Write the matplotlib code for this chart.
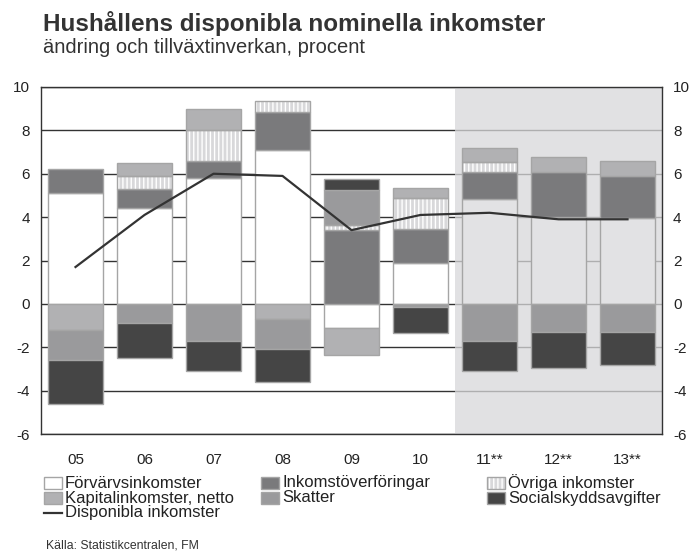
import matplotlib.pyplot as plt
import numpy as np
from matplotlib.patches import Rectangle
from matplotlib.lines import Line2D

plt.rcParams["font.family"] = ["Liberation Sans", "DejaVu Sans"]
plt.rcParams["axes.unicode_minus"] = False

years = ["05", "06", "07", "08", "09", "10", "11**", "12**", "13**"]
n_forecast = 3

# contributions, percentage points
forvarv = [5.1, 4.4, 5.8, 7.1, -1.1, 1.9, 4.85, 4.0, 3.95]
overforing = [1.1, 0.9, 0.8, 1.75, 3.4, 1.55, 1.25, 2.1, 1.95]
ovriga = [0.0, 0.6, 1.4, 0.5, 0.25, 1.45, 0.45, 0.0, 0.0]
kapital = [-1.2, 0.6, 1.0, -0.7, -1.25, 0.45, 0.65, 0.65, 0.7]
skatter = [-1.4, -0.9, -1.7, -1.4, 1.6, -0.15, -1.7, -1.3, -1.3]
social = [-2.0, -1.6, -1.4, -1.5, 0.5, -1.2, -1.4, -1.65, -1.5]
disponibla = [1.7, 4.1, 6.0, 5.9, 3.4, 4.1, 4.2, 3.9, 3.9]

legend_labels = ["Förvärvsinkomster", "Kapitalinkomster, netto", "Disponibla inkomster",
                 "Inkomstöverföringar", "Skatter",
                 "Övriga inkomster", "Socialskyddsavgifter"]

c_white = "white"
c_shade_fill = "#e2e2e4"
c_over = "#7a7a7c"
c_ovr = "#d8d8da"
c_kap = "#b1b1b3"
c_skatt = "#9a9a9c"
c_soc = "#454545"
c_edge = "#a5a5a5"
c_line = "#333333"

W, H = 693, 552
fig = plt.figure(figsize=(W / 100, H / 100), dpi=100)
ax = fig.add_axes([41 / W, 1 - 434 / H, 621 / W, 347 / H])

x = np.arange(len(years))
width = 0.8
first_fc = len(years) - n_forecast

# gridlines and forecast shading
for yv in range(-6, 11, 2):
    ax.axhline(yv, color=c_line, lw=1.0, zorder=1)
ax.axvspan(first_fc - 0.5, len(years) - 0.5, color="#d8d8da", alpha=0.75, lw=0, zorder=1.5)

series = [
    ("forvarv", forvarv, c_white),
    ("overforing", overforing, c_over),
    ("ovriga", ovriga, c_ovr),
    ("kapital", kapital, c_kap),
    ("skatter", skatter, c_skatt),
    ("social", social, c_soc),
]

pos_base = np.zeros(len(years))
neg_base = np.zeros(len(years))
for name, vals, col in series:
    for i, v in enumerate(vals):
        if v == 0:
            continue
        if v > 0:
            b = pos_base[i]
            pos_base[i] += v
        else:
            b = neg_base[i]
            neg_base[i] += v
        fc = col
        if name == "forvarv" and i >= first_fc:
            fc = c_shade_fill
        if name == "ovriga":
            ax.bar(x[i], v, width, bottom=b, color=fc, edgecolor="white",
                   hatch="||||", lw=0, zorder=2)
            ax.bar(x[i], v, width, bottom=b, facecolor="none", edgecolor=c_edge,
                   lw=1.0, zorder=2.1)
        else:
            ax.bar(x[i], v, width, bottom=b, color=fc, edgecolor=c_edge,
                   lw=1.0, zorder=2)

ax.plot(x, disponibla, color=c_line, lw=1.6, zorder=3)

ax.set_xlim(-0.5, len(years) - 0.5)
ax.set_ylim(-6, 10)
ax.set_yticks(range(-6, 11, 2))
ax.set_xticks(x)
ax.set_xticklabels(years)
ax.tick_params(axis="both", length=0, labelsize=11, labelcolor="#222222")
ax.tick_params(axis="y", labelright=True, pad=8)
ax.tick_params(axis="x", pad=14)
for sp in ax.spines.values():
    sp.set_color(c_line)
    sp.set_linewidth(1.0)
    sp.set_zorder(4)

fig.text(43 / W, 1 - 24 / H, "Hushållens disponibla nominella inkomster",
         fontsize=17.5, fontweight="bold", color="#333333", va="center")
fig.text(43 / W, 1 - 48 / H, "ändring och tillväxtinverkan, procent",
         fontsize=14.5, color="#333333", va="center")

# hand-placed legend in three columns
col_x = [44, 261, 487]
row_y = [483, 498, 513]
slots = [(0, 0), (0, 1), (0, 2), (1, 0), (1, 1), (2, 0), (2, 1)]
kinds = [("box", c_white), ("box", c_kap), ("line", c_line),
         ("box", c_over), ("box", c_skatt), ("hatch", c_ovr), ("box", c_soc)]
for lab, (ci, ri), (kind, col) in zip(legend_labels, slots, kinds):
    x0 = col_x[ci]
    yc = row_y[ri]
    if kind == "line":
        fig.add_artist(Line2D([x0 / W, (x0 + 18) / W], [1 - yc / H, 1 - yc / H],
                              color=col, lw=1.6, transform=fig.transFigure))
    else:
        rect = (x0 / W, 1 - (yc + 6) / H)
        if kind == "hatch":
            fig.add_artist(Rectangle(rect, 18 / W, 12 / H, facecolor=col, edgecolor="white",
                                     hatch="||||", lw=0, transform=fig.transFigure))
            fig.add_artist(Rectangle(rect, 18 / W, 12 / H, facecolor="none", edgecolor=c_edge,
                                     lw=1.0, transform=fig.transFigure))
        else:
            fig.add_artist(Rectangle(rect, 18 / W, 12 / H, facecolor=col, edgecolor=c_edge,
                                     lw=1.0, transform=fig.transFigure))
    fig.text((x0 + 21) / W, 1 - yc / H, lab, fontsize=12, color="#222222", va="center")

fig.text(46 / W, 1 - 546 / H, "Källa: Statistikcentralen, FM", fontsize=8.8,
         color="#333333", va="center")

fig.savefig("out.png", dpi=100, facecolor="white")
